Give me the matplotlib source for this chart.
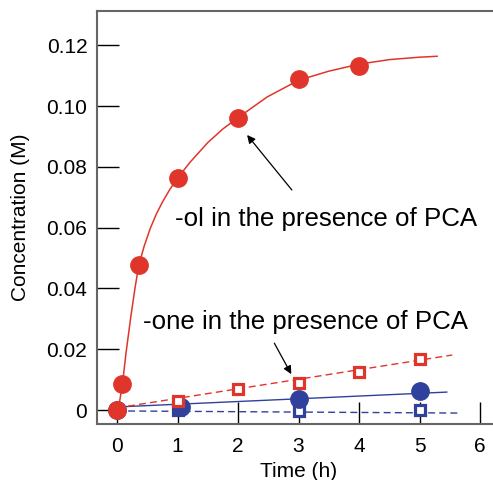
import matplotlib
matplotlib.use("Agg")
import matplotlib.pyplot as plt

plt.rcParams['font.family'] = ['Liberation Sans', 'DejaVu Sans']

RED = "#e0352a"
BLUE = "#2f419c"

# -ol with PCA (filled red circles) and the fitted curve
ol_t = [0, 0.09, 0.36, 1, 2, 3, 4]
ol_c = [0.0, 0.0086, 0.0477, 0.0763, 0.0962, 0.1088, 0.1132]
ol_fit_t = [0.02, 0.09, 0.15, 0.23, 0.30, 0.36, 0.45, 0.55, 0.65, 0.75, 0.87,
            1.0, 1.21, 1.5, 1.75, 2.0, 2.48, 3.0, 3.5, 4.0, 4.5, 5.0, 5.29]
ol_fit_c = [0.0, 0.0086, 0.019, 0.031, 0.0405, 0.0477, 0.0540, 0.0598, 0.0645,
            0.0684, 0.0725, 0.0763, 0.0816, 0.0880, 0.0925, 0.0962, 0.1030,
            0.1085, 0.1115, 0.1138, 0.1153, 0.1161, 0.1164]

# -one with PCA (open red squares) + linear fit
one_t = [0, 1, 2, 3, 4, 5]
one_c = [0.0, 0.003, 0.0069, 0.0089, 0.0125, 0.0168]
one_fit_t = [0, 5.54]
one_fit_c = [0.0007, 0.0181]

# blue series (filled circles, open squares) + linear fits
bc_t = [0, 1.05, 3, 5]
bc_c = [0.0, 0.001, 0.0036, 0.0063]
bc_fit_t = [0, 5.45]
bc_fit_c = [0.001, 0.0059]

bs_t = [0, 1, 3, 5]
bs_c = [0.0, 0.0, -0.0003, 0.0]
bs_fit_t = [0, 5.64]
bs_fit_c = [-0.0003, -0.001]

xticks = [0, 1, 2, 3, 4, 5, 6]
yticks = [0, 0.02, 0.04, 0.06, 0.08, 0.10, 0.12]
ylabels = ["0", "0.02", "0.04", "0.06", "0.08", "0.10", "0.12"]

fig = plt.figure(figsize=(4.93, 4.80), dpi=100)
ax = fig.add_axes([97/493, 56/480, 403/493, 413/480])

ax.plot(bs_fit_t, bs_fit_c, color=BLUE, lw=1, dashes=(5, 3), zorder=2)
ax.plot(bc_fit_t, bc_fit_c, color=BLUE, lw=1, zorder=2)
ax.plot(bs_t, bs_c, ls="none", marker="s", ms=7, mew=2.3, mfc="white",
        mec=BLUE, zorder=3)
ax.plot(bc_t, bc_c, ls="none", marker="o", ms=12.5, color=BLUE, zorder=4)

ax.plot(one_fit_t, one_fit_c, color=RED, lw=1, dashes=(5, 3), zorder=5)
ax.plot(ol_fit_t, ol_fit_c, color=RED, lw=1.1, zorder=5)
ax.plot(one_t, one_c, ls="none", marker="s", ms=7, mew=2.3, mfc="white",
        mec=RED, zorder=6)
ax.plot(ol_t, ol_c, ls="none", marker="o", ms=12.5, color=RED, zorder=7)

ax.annotate("", xy=(2.15, 0.0905), xytext=(2.89, 0.0724),
            arrowprops=dict(arrowstyle="-|>", color="black", lw=0.9,
                            mutation_scale=12, shrinkA=0, shrinkB=0))
ax.annotate("", xy=(2.88, 0.0118), xytext=(2.60, 0.0220),
            arrowprops=dict(arrowstyle="-|>", color="black", lw=0.9,
                            mutation_scale=12, shrinkA=0, shrinkB=0))
ax.text(0.96, 0.0605, "-ol in the presence of PCA", fontsize=18.6,
        va="baseline", ha="left")
ax.text(0.43, 0.0266, "-one in the presence of PCA", fontsize=18.6,
        va="baseline", ha="left")

ax.set_xlim(-0.331, 6.33)
ax.set_ylim(-0.0046, 0.1313)
ax.set_xticks(xticks)
ax.set_yticks(yticks)
ax.set_yticklabels(ylabels)
ax.tick_params(direction="in", length=16, width=1, color="black",
               labelsize=15, pad=7)
ax.tick_params(axis="x", pad=9)
for s in ax.spines.values():
    s.set_color("#666666")
    s.set_linewidth(1.5)
ax.spines["right"].set_visible(False)

ax.set_xlabel("Time (h)", fontsize=15, labelpad=5)
ax.set_ylabel("Concentration (M)", fontsize=15)
ax.yaxis.set_label_coords(-67/403, 0.5)

fig.savefig("out.png", dpi=100)
